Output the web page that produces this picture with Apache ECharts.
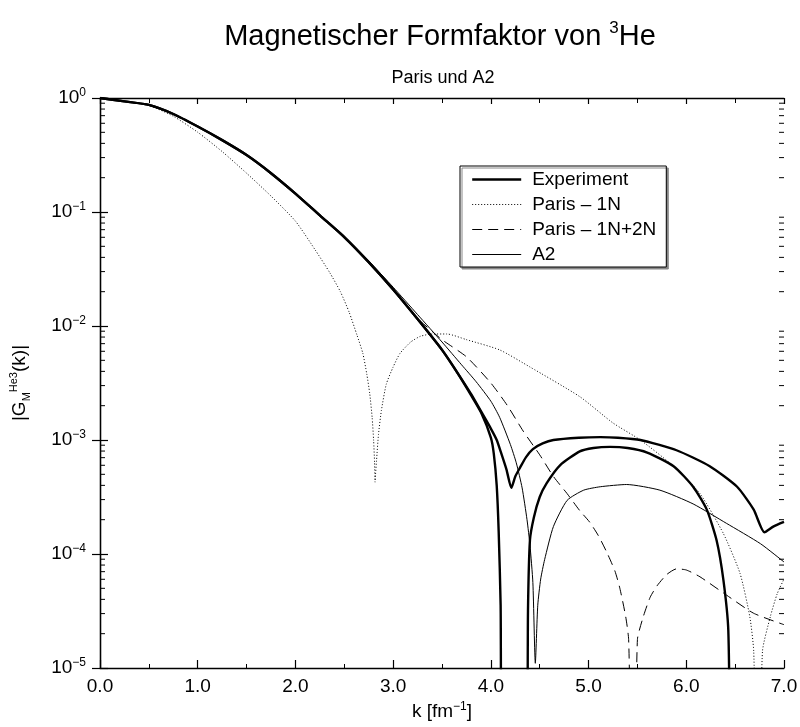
<!DOCTYPE html>
<html>
<head>
<meta charset="utf-8">
<title>Magnetischer Formfaktor von 3He</title>
<script src="https://cdn.jsdelivr.net/npm/echarts@6/dist/echarts.min.js"></script>
<style>
  html, body { margin: 0; padding: 0; background: #fff; overflow: hidden; }
  #chart { width: 800px; height: 727px; }
</style>
</head>
<body>
<div id="chart"></div>
<script>
// k in fm^-1, |G_M(k)| on a log scale

// Experiment, upper branch (cusps at k ~ 4.2 and 6.8)
const expUpperK = [0, 0.25, 0.5, 0.75, 1.0, 1.25, 1.5, 1.75, 2.0, 2.25, 2.5, 2.75, 3.0, 3.25, 3.5,
  3.65, 3.8, 3.9, 4.0, 4.06, 4.1, 4.16, 4.21, 4.25, 4.3, 4.36, 4.43, 4.53, 4.64, 4.9, 5.12, 5.3,
  5.53, 5.9, 6.24, 6.52, 6.69, 6.8, 6.89, 7.0];
const expUpperG = [1.0, 0.933, 0.869, 0.724, 0.562, 0.427, 0.316, 0.219, 0.145, 0.0933, 0.0603, 0.0363, 0.0209, 0.0115, 0.00617,
  0.00398, 0.00251, 0.00178, 0.00126, 0.00100, 7.94e-4, 5.50e-4, 3.80e-4, 4.79e-4, 5.75e-4, 7.08e-4, 8.32e-4, 9.33e-4, 1.0e-3, 1.047e-3, 1.06e-3, 1.047e-3,
  1.0e-3, 8.13e-4, 5.89e-4, 3.89e-4, 2.45e-4, 1.55e-4, 1.74e-4, 1.91e-4];

// Experiment, lower branch (zeros at k ~ 4.11, 4.37 and 6.45)
const expLowerK = [0, 0.25, 0.5, 0.75, 1.0, 1.25, 1.5, 1.75, 2.0, 2.25, 2.5, 2.75, 3.0, 3.25, 3.5,
  3.65, 3.8, 3.9, 4.0, 4.03, 4.06, 4.08, 4.1, 4.115, 4.365, 4.38, 4.4, 4.44, 4.5, 4.57, 4.71, 4.91,
  5.05, 5.22, 5.4, 5.6, 5.87, 6.07, 6.21, 6.31, 6.38, 6.43, 6.45];
const expLowerG = [1.0, 0.933, 0.869, 0.724, 0.562, 0.427, 0.316, 0.219, 0.145, 0.0933, 0.0603, 0.0363, 0.0209, 0.0115, 0.00617,
  0.00398, 0.00245, 0.00174, 0.00105, 7.59e-4, 3.98e-4, 1.58e-4, 3.55e-5, 1e-6, 1e-6, 3.16e-5, 1.32e-4, 2.09e-4, 3.16e-4, 4.17e-4, 6.03e-4, 7.94e-4,
  8.51e-4, 8.71e-4, 8.51e-4, 7.76e-4, 5.89e-4, 3.89e-4, 2.45e-4, 1.32e-4, 5.89e-5, 2.14e-5, 1e-6];

// Paris - 1N
const paris1NK = [0, 0.25, 0.5, 0.75, 1.0, 1.25, 1.5, 1.75, 2.0, 2.2, 2.35, 2.46, 2.55, 2.63, 2.69, 2.73,
  2.76, 2.785, 2.8, 2.81, 2.815, 2.82, 2.83, 2.85, 2.88, 2.93, 3.0, 3.07, 3.18, 3.28, 3.4, 3.55, 3.75,
  4.09, 4.4, 4.91, 5.25, 5.53, 5.87, 6.14, 6.38, 6.55, 6.65, 6.69, 6.72, 6.75, 6.78, 6.86, 6.93, 7.0];
const paris1NG = [1.0, 0.933, 0.861, 0.692, 0.501, 0.339, 0.219, 0.138, 0.0832, 0.0468, 0.0295, 0.0200, 0.0132, 0.00832, 0.00575, 0.00380,
  0.00257, 0.00158, 0.0010, 6.31e-4, 4.27e-4, 5.01e-4, 6.61e-4, 0.00112, 0.00182, 0.00309, 0.00437, 0.00575, 0.00724, 0.00813, 0.00851, 0.00851, 0.00759,
  0.00617, 0.00437, 0.00240, 0.00141, 0.0010, 5.89e-4, 3.39e-4, 1.51e-4, 6.76e-5, 2.82e-5, 1.41e-5, 1e-6, 1e-6, 1.41e-5, 2.82e-5, 4.47e-5, 6.03e-5];

// Paris - 1N+2N
const paris2NK = [0, 0.25, 0.5, 0.75, 1.0, 1.25, 1.5, 1.75, 2.0, 2.25, 2.5, 2.75, 3.0, 3.25, 3.5,
  3.75, 4.0, 4.17, 4.33, 4.5, 4.64, 4.78, 4.91, 5.01, 5.1, 5.19, 5.27, 5.32, 5.38, 5.41, 5.445, 5.475,
  5.5, 5.56, 5.63, 5.7, 5.8, 5.9, 6.0, 6.14, 6.41, 6.69, 7.0];
const paris2NG = [1.0, 0.933, 0.869, 0.724, 0.562, 0.427, 0.316, 0.219, 0.145, 0.0933, 0.0603, 0.0368, 0.0214, 0.0117, 0.00759,
  0.00537, 0.00316, 0.00200, 0.00120, 7.41e-4, 4.79e-4, 3.39e-4, 2.40e-4, 1.91e-4, 1.45e-4, 1.02e-4, 7.08e-5, 5.01e-5, 2.82e-5, 1.78e-5, 1e-6, 1e-6,
  1.78e-5, 2.82e-5, 4.17e-5, 5.25e-5, 6.61e-5, 7.41e-5, 7.24e-5, 6.31e-5, 4.37e-5, 3.02e-5, 2.40e-5];

// A2
const a2K = [0, 0.25, 0.5, 0.75, 1.0, 1.25, 1.5, 1.75, 2.0, 2.25, 2.5, 2.75, 3.0, 3.25, 3.5,
  3.7, 3.85, 4.0, 4.09, 4.2, 4.26, 4.32, 4.37, 4.4, 4.43, 4.455, 4.48, 4.51, 4.55, 4.64, 4.78, 4.95,
  5.12, 5.39, 5.73, 6.07, 6.41, 6.76, 7.0];
const a2G = [1.0, 0.933, 0.869, 0.724, 0.562, 0.427, 0.316, 0.219, 0.145, 0.0933, 0.0610, 0.0372, 0.0219, 0.0126, 0.00724,
  0.00457, 0.00324, 0.00219, 0.00158, 9.12e-4, 6.31e-4, 3.80e-4, 2.0e-4, 1.20e-4, 5.62e-5, 1.1e-5, 3.55e-5, 6.03e-5, 8.91e-5, 1.74e-4, 2.95e-4, 3.63e-4,
  3.89e-4, 4.07e-4, 3.63e-4, 2.75e-4, 1.86e-4, 1.23e-4, 8.51e-5];

// axis ticks
const xTicks = [0, 1, 2, 3, 4, 5, 6, 7];
const yDecades = [-5, -4, -3, -2, -1, 0];
const yMinorFactors = [2, 3, 4, 5, 6, 7, 8, 9];

const FONT = "'Liberation Sans', Arial, Helvetica, sans-serif";
const zip = (ks, gs) => ks.map((k, i) => [k, gs[i]]);

// minor decade ticks, one entry per frame side (left edge and right edge)
const xLeft = xTicks[0];
const xRight = xTicks[xTicks.length - 1];
const minorTickData = [];
yDecades.slice(0, -1).forEach(d => {
  yMinorFactors.forEach(f => {
    const v = f * Math.pow(10, d);
    minorTickData.push([xLeft, v, 1]);
    minorTickData.push([xRight, v, -1]);
  });
});

const supDigits = e => (e < 0 ? '\u2212' + (-e) : String(e));

const chart = echarts.init(document.getElementById('chart'), null, { renderer: 'canvas' });

const lineBase = { type: 'line', showSymbol: false, symbol: 'none', smooth: 0.2, animation: false, clip: true };

chart.setOption({
  animation: false,
  backgroundColor: '#fff',
  textStyle: { fontFamily: FONT, color: '#000' },
  graphic: [
    {
      type: 'text', x: 440, y: 37, silent: true,
      style: {
        text: '{a|Magnetischer Formfaktor von }{s|3}{a|He}',
        align: 'center', verticalAlign: 'middle',
        rich: {
          a: { fontSize: 29, fontFamily: FONT, fill: '#000', lineHeight: 34 },
          s: { fontSize: 17, fontFamily: FONT, fill: '#000', lineHeight: 18, verticalAlign: 'top' }
        }
      }
    },
    {
      type: 'text', x: 443, y: 78, silent: true,
      style: { text: 'Paris und A2', align: 'center', verticalAlign: 'middle', fontSize: 18, fontFamily: FONT, fill: '#000' }
    }
  ],
  grid: { left: 100, right: 16, top: 98, bottom: 59, containLabel: false, outerBoundsMode: 'none' },
  legend: {
    data: ['Experiment', 'Paris \u2013 1N', 'Paris \u2013 1N+2N', 'A2'],
    orient: 'vertical',
    left: 460, top: 166,
    itemWidth: 49, itemHeight: 14, itemGap: 4,
    padding: [3, 10, 2, 11],
    backgroundColor: '#fff',
    borderColor: '#000', borderWidth: 1, borderRadius: 0,
    shadowColor: '#888', shadowBlur: 0, shadowOffsetX: 2, shadowOffsetY: 2,
    selectedMode: false,
    itemStyle: { opacity: 0, borderWidth: 0 },
    lineStyle: { width: 'inherit', type: 'inherit' },
    textStyle: { fontSize: 19, fontFamily: FONT, color: '#000', lineHeight: 21, padding: [0, 0, 0, 6] }
  },
  xAxis: [
    {
      type: 'value', min: 0, max: 7, interval: 1, position: 'bottom',
      name: '{n|k [fm}{s|\u22121}{n|]}', nameLocation: 'middle', nameGap: 33,
      nameTextStyle: {
        rich: {
          n: { fontSize: 19, fontFamily: FONT, color: '#000', lineHeight: 22 },
          s: { fontSize: 12, fontFamily: FONT, color: '#000', lineHeight: 12, verticalAlign: 'top' }
        }
      },
      axisLine: { show: true, lineStyle: { color: '#000', width: 1.3 } },
      axisTick: { show: true, inside: true, length: 8, lineStyle: { color: '#000', width: 1.2 } },
      minorTick: { show: true, splitNumber: 2, length: 4, lineStyle: { color: '#000', width: 1 } },
      axisLabel: { fontSize: 19, fontFamily: FONT, color: '#000', margin: 9, formatter: v => v.toFixed(1) },
      splitLine: { show: false }, minorSplitLine: { show: false }
    },
    {
      type: 'value', min: 0, max: 7, interval: 1, position: 'top',
      axisLine: { show: true, lineStyle: { color: '#000', width: 1.3 } },
      axisTick: { show: true, inside: true, length: 6, lineStyle: { color: '#000', width: 1.2 } },
      minorTick: { show: true, splitNumber: 2, length: 5, lineStyle: { color: '#000', width: 1 } },
      axisLabel: { show: false },
      splitLine: { show: false }
    }
  ],
  yAxis: [
    {
      type: 'log', logBase: 10, min: 1e-5, max: 1, position: 'left',
      name: '{n||G}{sub|M}{sup|He3}{n|(k)|}', nameLocation: 'middle', nameGap: 68, nameRotate: 90,
      nameTextStyle: {
        rich: {
          n: { fontSize: 19, fontFamily: FONT, color: '#000', lineHeight: 24 },
          sub: { fontSize: 11, fontFamily: FONT, color: '#000', lineHeight: 12, verticalAlign: 'bottom' },
          sup: { fontSize: 11, fontFamily: FONT, color: '#000', lineHeight: 12, verticalAlign: 'top' }
        }
      },
      axisLine: { show: true, lineStyle: { color: '#000', width: 1.3 } },
      axisTick: { show: true, inside: true, length: 8, lineStyle: { color: '#000', width: 1.2 } },
      axisLabel: {
        margin: 14,
        formatter: v => '{b|10}{e|' + supDigits(Math.round(Math.log10(v))) + '}',
        rich: {
          b: { fontSize: 19, fontFamily: FONT, color: '#000', lineHeight: 22 },
          e: { fontSize: 12, fontFamily: FONT, color: '#000', lineHeight: 12, verticalAlign: 'top' }
        }
      },
      splitLine: { show: false }
    },
    {
      type: 'log', logBase: 10, min: 1e-5, max: 1, position: 'right',
      axisLine: { show: true, lineStyle: { color: '#000', width: 1.3 } },
      axisTick: { show: true, inside: true, length: 8, lineStyle: { color: '#000', width: 1.2 } },
      axisLabel: { show: false },
      splitLine: { show: false }
    }
  ],
  series: [
    {
      // minor decade ticks (2..9 x 10^n) drawn inward from the left and right frame
      type: 'custom', name: 'minorTicks', silent: true, animation: false, z: 5,
      xAxisIndex: 0, yAxisIndex: 0, clip: false,
      encode: { x: 0, y: 1 },
      data: minorTickData,
      renderItem: (params, api) => {
        const p = api.coord([api.value(0), api.value(1)]);
        const dir = api.value(2);
        return {
          type: 'line',
          shape: { x1: p[0], y1: p[1], x2: p[0] + 5 * dir, y2: p[1] },
          style: { stroke: '#000', lineWidth: 1 }
        };
      }
    },
    Object.assign({}, lineBase, {
      name: 'Paris \u2013 1N', data: zip(paris1NK, paris1NG), z: 2,
      lineStyle: { color: '#000', width: 1, type: [1, 2] }, itemStyle: { color: '#000' }
    }),
    Object.assign({}, lineBase, {
      name: 'Paris \u2013 1N+2N', data: zip(paris2NK, paris2NG), z: 2,
      lineStyle: { color: '#000', width: 1, type: [10, 6] }, itemStyle: { color: '#000' }
    }),
    Object.assign({}, lineBase, {
      name: 'A2', data: zip(a2K, a2G), z: 3,
      lineStyle: { color: '#000', width: 1 }, itemStyle: { color: '#000' }
    }),
    Object.assign({}, lineBase, {
      name: 'Experiment', data: zip(expUpperK, expUpperG), z: 4,
      lineStyle: { color: '#000', width: 2.4 }, itemStyle: { color: '#000' }
    }),
    Object.assign({}, lineBase, {
      name: 'Experiment', data: zip(expLowerK, expLowerG), z: 4,
      lineStyle: { color: '#000', width: 2.4 }, itemStyle: { color: '#000' }
    })
  ]
});
</script>
</body>
</html>
